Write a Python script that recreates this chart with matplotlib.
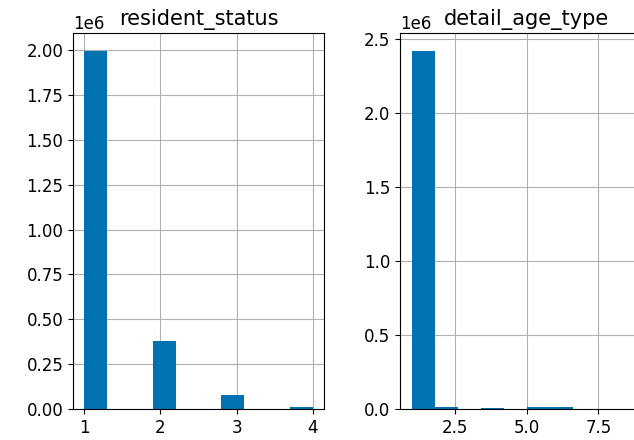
import numpy as np
import matplotlib.pyplot as plt
from matplotlib.ticker import MultipleLocator

# value counts per column
resident_status_values = [1, 2, 3, 4]
resident_status_counts = [1995000, 380000, 80000, 10000]

detail_age_type_values = [1, 2, 4, 5, 6, 9]
detail_age_type_counts = [2420000, 11000, 9000, 12000, 12000, 3000]

bar_color = "#0072B2"

plt.rcParams["font.size"] = 12

fig = plt.figure(figsize=(6.34, 4.40), dpi=100)
ax1 = fig.add_axes([73 / 634, 31 / 440, 251 / 634, 376 / 440])
ax2 = fig.add_axes([400 / 634, 31 / 440, 253 / 634, 376 / 440])

ax1.hist(resident_status_values, bins=10, weights=resident_status_counts, color=bar_color)
ax1.set_title("resident_status", fontsize=15)
ax1.grid(True, color="#b0b0b0")
ax1.set_axisbelow(True)

ax2.hist(detail_age_type_values, bins=10, weights=detail_age_type_counts, color=bar_color)
ax2.set_title("detail_age_type", fontsize=15)
ax2.xaxis.set_major_locator(MultipleLocator(2.5))
ax2.grid(True, color="#b0b0b0")
ax2.set_axisbelow(True)

fig.savefig("out.png", dpi=100)
